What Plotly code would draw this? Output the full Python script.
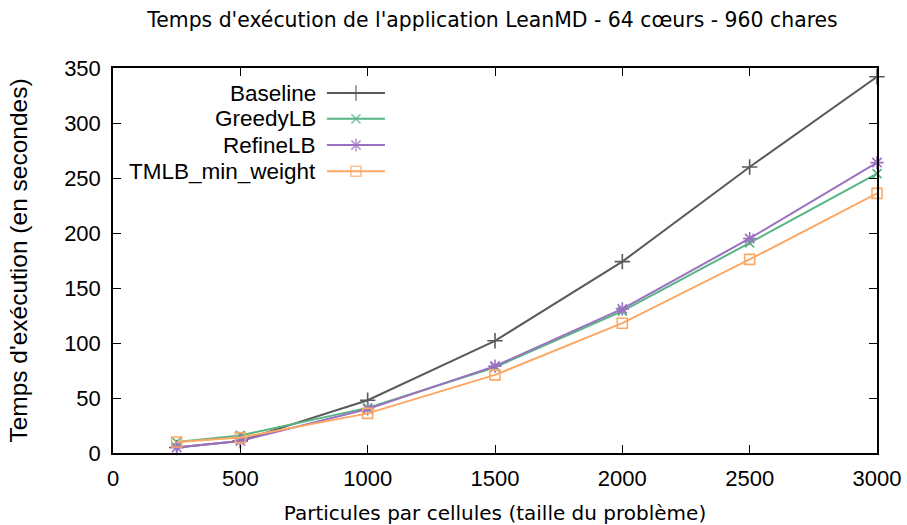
import plotly.graph_objects as go

x_vals = [250, 500, 1000, 1500, 2000, 2500, 3000]
baseline = [5, 11, 48, 102, 174, 260, 342]
greedy = [10, 16, 41, 78, 129, 191, 254]
refine = [5, 11, 40, 79, 131, 195, 264]
tmlb = [10, 14, 36, 71, 118, 176, 236]

series_names = ["Baseline", "GreedyLB", "RefineLB", "TMLB_min_weight"]
series_vals = [baseline, greedy, refine, tmlb]
colors = ["#5a5a5a", "#55b583", "#9a70c0", "#fca865"]
symbols = ["cross-thin-open", "x-thin-open", "asterisk-open", "square-open"]
msizes = [11, 9, 11, 10]

x_ticks = [0, 500, 1000, 1500, 2000, 2500, 3000]
y_ticks = [0, 50, 100, 150, 200, 250, 300, 350]

fig = go.Figure()
for name, vals, c, s, ms in zip(series_names, series_vals, colors, symbols, msizes):
    fig.add_trace(go.Scatter(
        x=x_vals, y=vals, mode="lines+markers", name=name,
        line=dict(color=c, width=2),
        marker=dict(symbol=s, size=ms, color=c, line=dict(color=c, width=1.6)),
        showlegend=False, cliponaxis=False))

# manual gnuplot-style legend (text right, sample to the right)
leg_y = [0.935, 0.868, 0.800, 0.732]
for name, c, s, ms, ly in zip(series_names, colors, symbols, msizes, leg_y):
    fig.add_trace(go.Scatter(
        x=[0.28, 0.318, 0.356], y=[ly, ly, ly], xaxis="x2", yaxis="y2",
        mode="lines+markers", line=dict(color=c, width=2),
        marker=dict(symbol=s, size=[0, ms, 0], color=c, line=dict(color=c, width=1.6)),
        showlegend=False, hoverinfo="skip"))
    fig.add_annotation(x=0.268, y=ly, xref="x2", yref="y2", text=name,
                       showarrow=False, xanchor="right", yanchor="middle",
                       font=dict(family="Liberation Sans", size=22.5, color="#000"))

axis_common = dict(showgrid=False, zeroline=False, showline=True, linecolor="#000",
                   linewidth=1.5, mirror="allticks", ticks="inside", ticklen=8,
                   tickcolor="#000", tickwidth=1, automargin=False,
                   tickfont=dict(family="Liberation Sans", size=22, color="#000"))

fig.update_layout(
    width=907, height=525,
    margin=dict(l=113, r=30, t=68, b=72, autoexpand=False),
    plot_bgcolor="white", paper_bgcolor="white",
    title=dict(text="Temps d'exécution de l'application LeanMD - 64 cœurs - 960 chares",
               x=0.543, xanchor="center", y=0.962, yanchor="middle",
               font=dict(family="DejaVu Sans", size=20.4, color="#000")),
    xaxis=dict(range=[0, 3000], tickvals=x_ticks, ticklabelstandoff=5,
               title=dict(text="Particules par cellules (taille du problème)",
                          font=dict(family="DejaVu Sans", size=20, color="#000"), standoff=18),
               **axis_common),
    yaxis=dict(range=[0, 350], tickvals=y_ticks, ticklabelstandoff=6,
               title=dict(text="Temps d'exécution (en secondes)",
                          font=dict(family="Liberation Sans", size=24.5, color="#000"), standoff=30),
               **axis_common),
    xaxis2=dict(range=[0, 1], domain=[0, 1], overlaying="x", visible=False, fixedrange=True),
    yaxis2=dict(range=[0, 1], domain=[0, 1], overlaying="y", visible=False, fixedrange=True),
)

fig.write_html("out.html", config={"displayModeBar": False},
               post_script="document.body.style.margin='0';")
